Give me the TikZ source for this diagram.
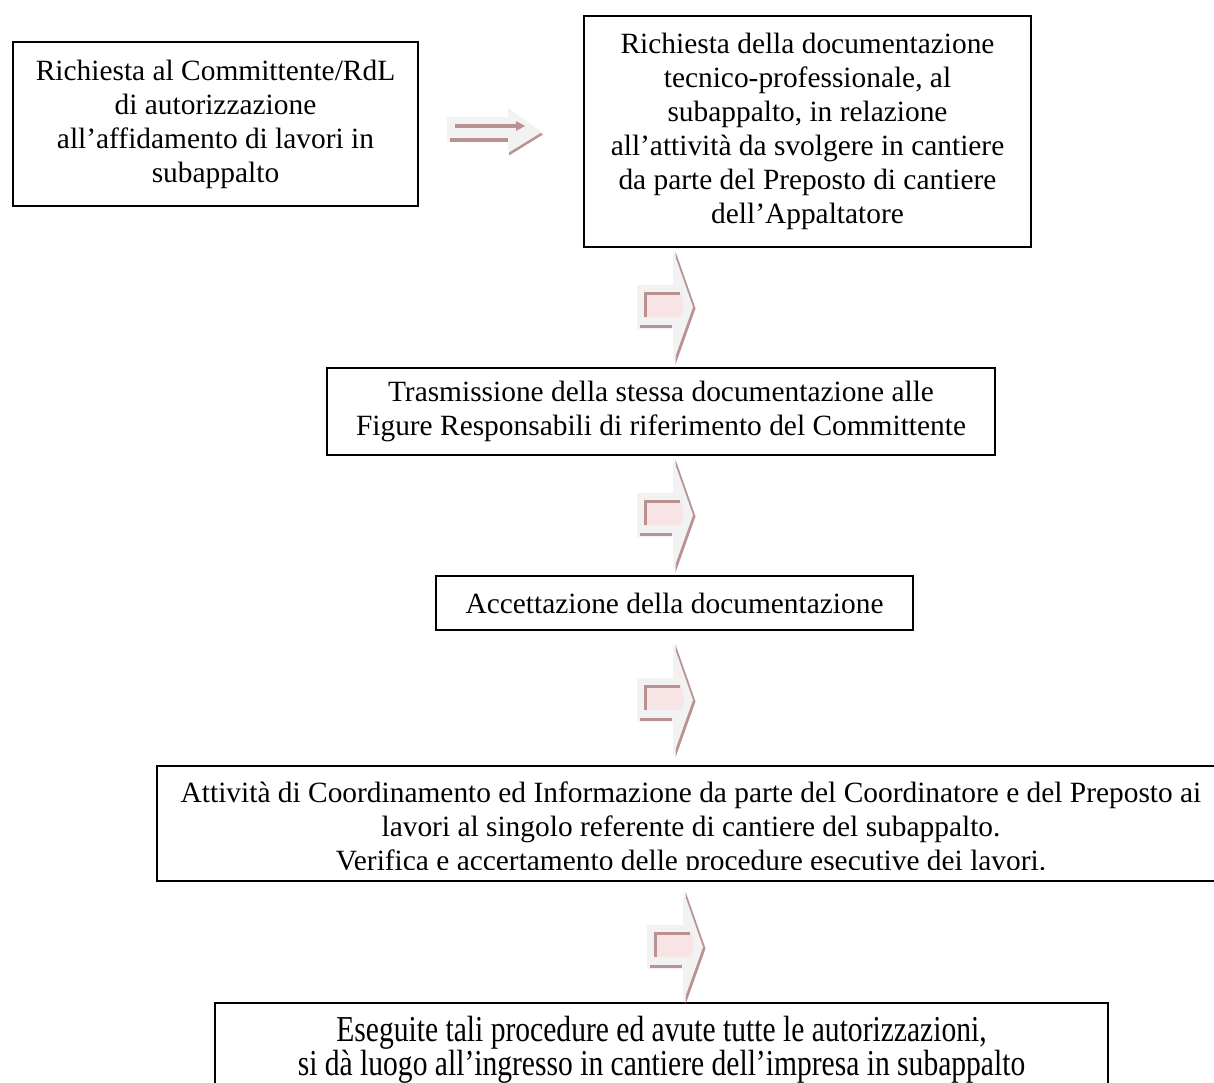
\documentclass[tikz,border=0pt]{standalone}
\usepackage{fontspec}
\setmainfont{Liberation Serif}
\newfontfamily\narrowserif[FakeStretch=0.81,Ligatures=TeX]{Liberation Serif}
\usepackage{tikz}

\definecolor{arrowgray}{HTML}{F2F2F2}
\definecolor{arrowrosy}{HTML}{B99191}
\definecolor{arrowpink}{HTML}{F8E4E4}

\tikzset{
  box/.style={draw, line width=1.3pt, inner sep=0pt, align=center,
    font=\fontsize{29.4}{34}\selectfont},
  boxtext/.style={inner sep=0pt, align=center,
    font=\fontsize{29.4}{34}\selectfont},
  fwdarrow/.pic={
    % ombra della punta
    \fill[arrowrosy, shift={(2.5,1.5)}] (36,-57) -- (56,0) -- (36,56) -- cycle;
    % freccia
    \fill[arrowgray] (0,-22) -- (36,-22) -- (36,-57) -- (56,0)
      -- (36,56) -- (36,22) -- (0,22) -- cycle;
    \draw[arrowrosy, line width=3pt] (3,19) -- (35,19);
    % rettangolo interno
    \fill[arrowpink] (8,-14) -- (44,-14) -- (47,-2) -- (44,10) -- (8,10) -- cycle;
    \draw[arrowrosy, line width=3pt] (8,10) -- (8,-14) -- (43,-14);
  }
}

\begin{document}
\begin{tikzpicture}[x=1pt, y=-1pt]
    \clip (0,0) rectangle (1214,1082);

    % riquadri
    \node[box, minimum width=405, minimum height=164] (rich) at (215.5,124)
      {Richiesta al Committente/RdL\\ di autorizzazione\\ all'affidamento di lavori in\\ subappalto};
    \node[box, minimum width=447, minimum height=231] (doc) at (807.5,131.5)
      {Richiesta della documentazione\\ tecnico-professionale, al\\ subappalto, in relazione\\
       all'attività da svolgere in cantiere\\ da parte del Preposto di cantiere\\ dell'Appaltatore};
    \node[box, minimum width=668, minimum height=87] (tras) at (661,411.5)
      {Trasmissione della stessa documentazione alle\\ Figure Responsabili di riferimento del Committente};
    \node[box, minimum width=477, minimum height=54] (acc) at (674.5,603)
      {Accettazione della documentazione};
    \node[box, minimum width=1069, minimum height=115] (coord) at (691.5,823.5) {};
    \begin{scope}
      \clip (157,766) rectangle (1226,869);
      \node[boxtext] (coordtxt) at (691,829)
        {Attività di Coordinamento ed Informazione da parte del Coordinatore e del Preposto ai\\
         lavori al singolo referente di cantiere del subappalto.\\
         Verifica e accertamento delle procedure esecutive dei lavori.};
    \end{scope}
    \node[box, minimum width=893, minimum height=94, font=\narrowserif\fontsize{36.5}{34}\selectfont]
      (esec) at (661.5,1050)
      {Eseguite tali procedure ed avute tutte le autorizzazioni,\\
       si dà luogo all'ingresso in cantiere dell'impresa in subappalto};

    % freccia orizzontale
    \fill[arrowrosy, shift={(1,2.5)}] (508,108) -- (542,132) -- (508,153) -- cycle;
    \fill[arrowgray] (447,117) -- (508,117) -- (508,108) -- (542,132)
      -- (508,153) -- (508,142) -- (447,142) -- cycle;
    \draw[arrowrosy, line width=3.5pt] (455,126) -- (518,126);
    \fill[arrowrosy] (516,121) -- (525,126) -- (516,131) -- cycle;
    \draw[arrowrosy, line width=3.5pt] (450,140) -- (508,140);

    % frecce tra i riquadri
    \coordinate (f1) at (637,307);
    \coordinate (f2) at (637,515);
    \coordinate (f3) at (637,700);
    \coordinate (f4) at (647,947);
    \foreach \f in {f1,f2,f3,f4}
      \pic at (\f) {fwdarrow};
\end{tikzpicture}
\end{document}
